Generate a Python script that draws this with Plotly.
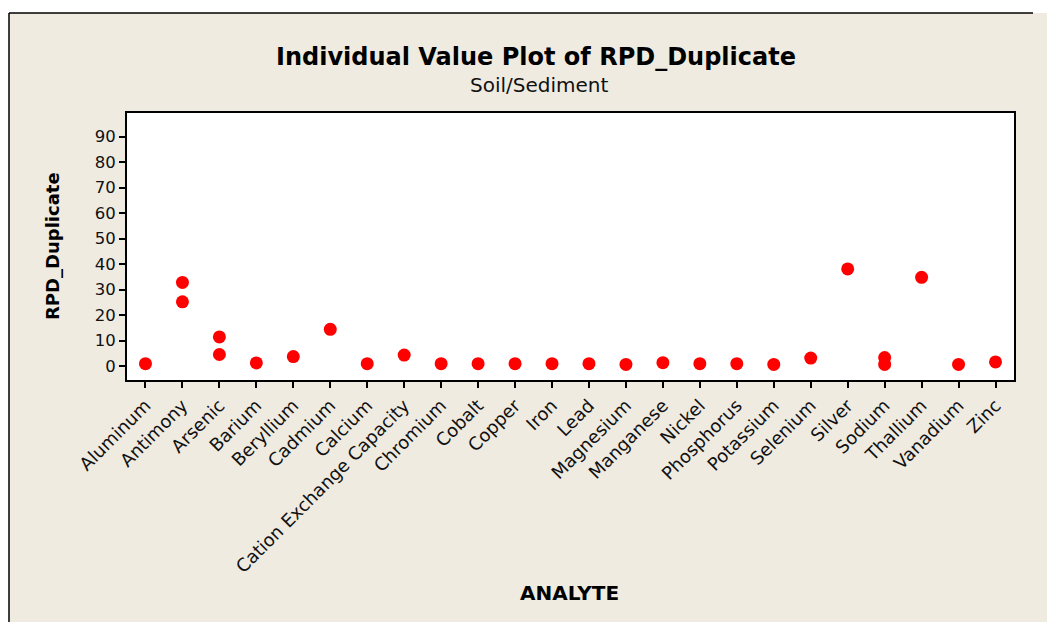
import plotly.graph_objects as go

analytes = ["Aluminum", "Antimony", "Arsenic", "Barium", "Beryllium", "Cadmium",
            "Calcium", "Cation Exchange Capacity", "Chromium", "Cobalt", "Copper",
            "Iron", "Lead", "Magnesium", "Manganese", "Nickel", "Phosphorus",
            "Potassium", "Selenium", "Silver", "Sodium", "Thallium", "Vanadium", "Zinc"]

point_analyte = ["Aluminum", "Antimony", "Antimony", "Arsenic", "Arsenic", "Barium",
                 "Beryllium", "Cadmium", "Calcium", "Cation Exchange Capacity",
                 "Chromium", "Cobalt", "Copper", "Iron", "Lead", "Magnesium",
                 "Manganese", "Nickel", "Phosphorus", "Potassium", "Selenium",
                 "Silver", "Sodium", "Sodium", "Thallium", "Vanadium", "Zinc"]
point_rpd = [0.9, 32.8, 25.2, 11.4, 4.5, 1.2,
             3.7, 14.4, 0.9, 4.3,
             0.9, 0.9, 0.9, 0.9, 0.9, 0.6,
             1.3, 0.9, 0.9, 0.6, 3.1,
             38.1, 3.3, 0.6, 34.8, 0.6, 1.6]

y_ticks = [0, 10, 20, 30, 40, 50, 60, 70, 80, 90]

W, H = 1047, 622
L, R, T, B = 127, 1014, 113, 380  # plot area in screen pixels
pw, ph = R - L, B - T


def px(x):
    return (x - L) / pw


def py(y):
    return (B - y) / ph


FONT = "DejaVu Sans"
BEIGE = "#EFEBE1"

fig = go.Figure()
fig.add_trace(go.Scatter(
    x=point_analyte, y=point_rpd, mode="markers",
    marker=dict(color="#FF0000", size=13, line=dict(width=0)),
    showlegend=False, hoverinfo="x+y"))

fig.update_layout(
    width=W, height=H,
    margin=dict(l=L, r=W - R, t=T, b=H - B, autoexpand=False),
    paper_bgcolor=BEIGE, plot_bgcolor="white",
    font=dict(family=FONT, color="#111111"),
    showlegend=False,
    xaxis=dict(
        type="category", categoryorder="array", categoryarray=analytes,
        range=[-0.5, len(analytes) - 0.5],
        tickangle=-45, tickfont=dict(size=18, family=FONT, color="#111111"),
        ticks="outside", ticklen=6, tickwidth=1.5, tickcolor="black",
        showline=True, linecolor="black", linewidth=2, mirror=True,
        showgrid=False, zeroline=False, fixedrange=True),
    yaxis=dict(
        range=[-5.5, 99.3], tickvals=y_ticks,
        tickfont=dict(size=16.5, family=FONT, color="#111111"),
        ticks="outside", ticklen=6, tickwidth=1.5, tickcolor="black",
        showline=True, linecolor="black", linewidth=2, mirror=True,
        showgrid=False, zeroline=False, fixedrange=True),
    shapes=[
        dict(type="rect", xref="paper", yref="paper", layer="below",
             x0=px(0), x1=px(9), y0=py(700), y1=py(0),
             fillcolor="white", line=dict(width=0)),
        dict(type="rect", xref="paper", yref="paper", layer="below",
             x0=px(0), x1=px(1100), y0=py(13), y1=py(0),
             fillcolor="white", line=dict(width=0)),
        dict(type="line", xref="paper", yref="paper",
             x0=px(9), x1=px(9), y0=py(13), y1=py(700),
             line=dict(color="black", width=1.5)),
        dict(type="line", xref="paper", yref="paper",
             x0=px(9), x1=px(1033), y0=py(13), y1=py(13),
             line=dict(color="black", width=1.5)),
    ],
    annotations=[
        dict(text="<b>Individual Value Plot of RPD_Duplicate</b>", xref="paper", yref="paper",
             x=px(536), y=py(57), xanchor="center", yanchor="middle", showarrow=False,
             font=dict(size=24, family=FONT, color="black")),
        dict(text="Soil/Sediment", xref="paper", yref="paper",
             x=px(539), y=py(85), xanchor="center", yanchor="middle", showarrow=False,
             font=dict(size=20, family=FONT, color="#111111")),
        dict(text="<b>RPD_Duplicate</b>", xref="paper", yref="paper",
             x=px(52), y=py(246), xanchor="center", yanchor="middle", showarrow=False,
             textangle=-90, font=dict(size=18, family=FONT, color="black")),
        dict(text="<b>ANALYTE</b>", xref="paper", yref="paper",
             x=px(569), y=py(593), xanchor="center", yanchor="middle", showarrow=False,
             font=dict(size=20, family=FONT, color="black")),
    ],
)

fig.write_html(
    "out.html",
    config={"displayModeBar": False},
    post_script="document.body.style.margin='0';document.body.style.overflow='hidden';",
)
